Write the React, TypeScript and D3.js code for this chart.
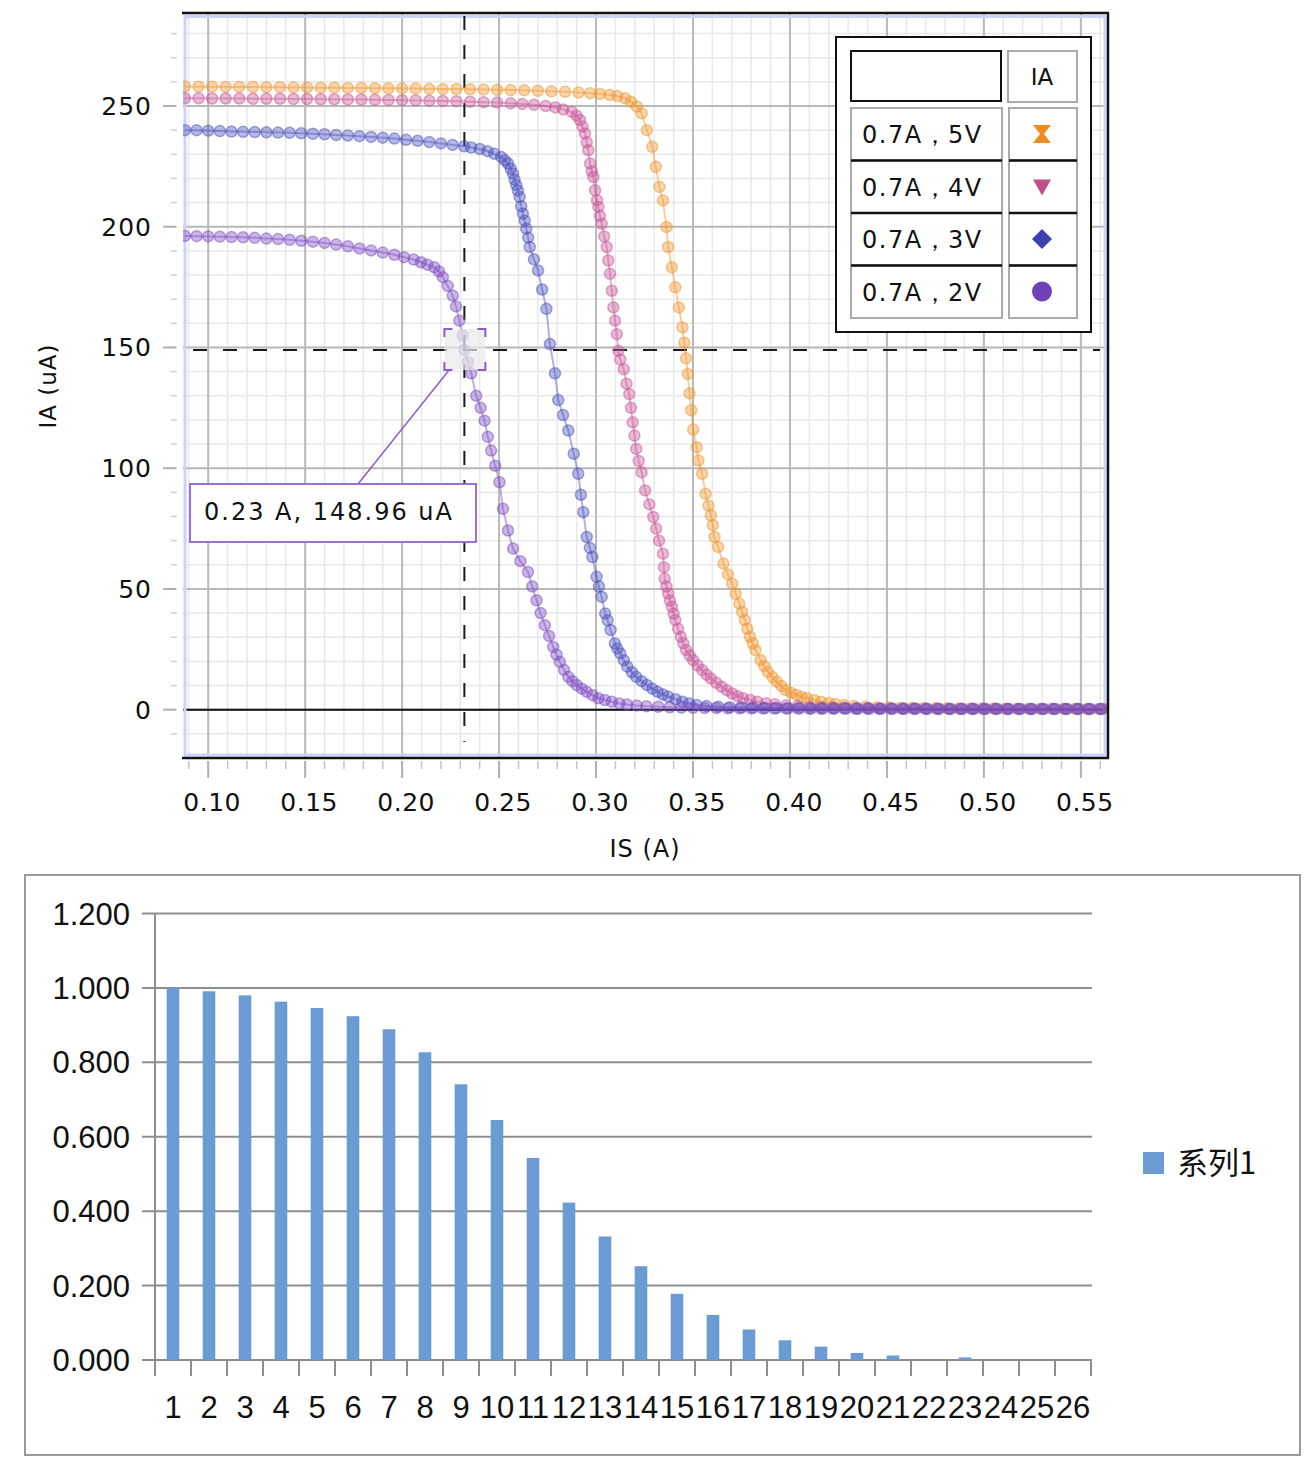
import * as d3 from "d3";

// ---------- top chart: IA (uA) vs IS (A) ----------
const s5V: [number, number][] = [
  [0.088, 258.1], [0.095, 258.0], [0.102, 258.0], [0.109, 257.9], [0.116, 257.9], [0.123, 257.9],
  [0.13, 257.8], [0.137, 257.8], [0.144, 257.7], [0.151, 257.7], [0.158, 257.6], [0.165, 257.6],
  [0.172, 257.5], [0.179, 257.5], [0.186, 257.4], [0.193, 257.3], [0.2, 257.3], [0.207, 257.2],
  [0.214, 257.1], [0.221, 257.0], [0.228, 257.0], [0.235, 256.9], [0.242, 256.8], [0.249, 256.7],
  [0.256, 256.6], [0.263, 256.5], [0.27, 256.3], [0.277, 256.1], [0.284, 255.9], [0.291, 255.6],
  [0.297, 255.3], [0.302, 255.0], [0.307, 254.6], [0.311, 254.1], [0.315, 253.2], [0.318, 251.8],
  [0.321, 249.8], [0.3235, 247.0], [0.3262, 240.0], [0.329, 233.1], [0.3308, 224.8], [0.3327, 216.5],
  [0.3345, 210.9], [0.3363, 199.9], [0.3372, 191.6], [0.3391, 183.2], [0.3409, 174.9], [0.3427, 166.6],
  [0.3446, 158.3], [0.3455, 152.0], [0.3464, 145.5], [0.3473, 139.0], [0.3482, 131.0], [0.3491, 124.0],
  [0.3501, 116.0], [0.3519, 108.7], [0.3528, 103.2], [0.3547, 97.7], [0.3565, 89.4], [0.358, 84.5],
  [0.3592, 80.5], [0.3602, 76.4], [0.3611, 71.5], [0.3629, 67.4], [0.3657, 60.5], [0.368, 56.0],
  [0.3702, 52.2], [0.372, 48.0], [0.3739, 43.9], [0.3753, 40.5], [0.3767, 37.1], [0.378, 33.5],
  [0.3794, 30.2], [0.3808, 27.5], [0.3822, 24.7], [0.3849, 20.5], [0.3868, 18.0], [0.3886, 15.7],
  [0.391, 13.5], [0.3932, 11.6], [0.3955, 9.8], [0.3978, 8.1], [0.4005, 7.0], [0.4033, 6.1],
  [0.406, 5.3], [0.4088, 4.7], [0.4125, 4.0], [0.4161, 3.3], [0.42, 2.8], [0.4235, 2.3],
  [0.428, 1.9], [0.433, 1.5], [0.439, 1.2], [0.445, 1.0], [0.451, 0.9], [0.457, 0.8],
  [0.463, 0.7], [0.469, 0.7], [0.475, 0.6], [0.481, 0.6], [0.487, 0.5], [0.493, 0.5],
  [0.499, 0.5], [0.505, 0.5], [0.511, 0.4], [0.517, 0.4], [0.523, 0.4], [0.529, 0.4],
  [0.535, 0.4], [0.541, 0.4], [0.547, 0.4], [0.553, 0.3], [0.559, 0.3], [0.564, 0.3],
];

const s4V: [number, number][] = [
  [0.088, 253.2], [0.095, 253.2], [0.102, 253.1], [0.109, 253.1], [0.116, 253.1], [0.123, 253.0],
  [0.13, 253.0], [0.137, 253.0], [0.144, 252.9], [0.151, 252.9], [0.158, 252.8], [0.165, 252.8],
  [0.172, 252.7], [0.179, 252.7], [0.186, 252.6], [0.193, 252.5], [0.2, 252.4], [0.207, 252.3],
  [0.214, 252.2], [0.221, 252.1], [0.228, 252.0], [0.235, 251.8], [0.242, 251.6], [0.249, 251.4],
  [0.256, 251.1], [0.262, 250.8], [0.268, 250.5], [0.274, 250.0], [0.279, 249.4], [0.283, 248.6],
  [0.2874, 247.6], [0.29, 246.0], [0.2917, 244.2], [0.293, 241.5], [0.2943, 238.6], [0.2952, 235.0],
  [0.296, 231.7], [0.2969, 226.2], [0.2978, 223.0], [0.2986, 220.6], [0.2995, 215.1], [0.3005, 211.0],
  [0.3012, 208.2], [0.302, 204.5], [0.3029, 201.2], [0.3042, 196.0], [0.3055, 191.6], [0.3063, 186.0],
  [0.3072, 180.5], [0.3081, 173.5], [0.3089, 166.6], [0.3098, 161.1], [0.3107, 155.5], [0.3115, 148.6],
  [0.3125, 145.0], [0.3143, 141.0], [0.3157, 135.0], [0.3171, 130.7], [0.318, 125.0], [0.3189, 119.0],
  [0.3198, 113.5], [0.3207, 108.0], [0.322, 103.0], [0.3235, 98.3], [0.3253, 90.8], [0.3275, 85.0],
  [0.3295, 79.8], [0.331, 75.0], [0.3325, 70.0], [0.3345, 64.6], [0.335, 59.0], [0.3354, 54.3],
  [0.3363, 51.0], [0.3372, 48.1], [0.3381, 45.2], [0.3391, 42.6], [0.34, 39.8], [0.3409, 37.1],
  [0.3423, 33.5], [0.3437, 30.2], [0.345, 27.5], [0.3464, 24.7], [0.3483, 22.5], [0.3501, 20.5],
  [0.3524, 18.3], [0.3547, 16.4], [0.357, 14.5], [0.3592, 12.9], [0.362, 11.1], [0.3647, 9.5],
  [0.3675, 8.0], [0.3702, 6.7], [0.373, 5.6], [0.3758, 4.7], [0.3795, 4.0], [0.3831, 3.3],
  [0.3877, 2.7], [0.3923, 2.2], [0.398, 1.8], [0.404, 1.5], [0.41, 1.2], [0.416, 1.0],
  [0.422, 0.9], [0.428, 0.8], [0.434, 0.7], [0.44, 0.7], [0.446, 0.6], [0.452, 0.6],
  [0.458, 0.5], [0.464, 0.5], [0.47, 0.5], [0.476, 0.5], [0.482, 0.4], [0.488, 0.4],
  [0.494, 0.4], [0.5, 0.4], [0.506, 0.4], [0.512, 0.3], [0.518, 0.3], [0.524, 0.3],
  [0.53, 0.3], [0.536, 0.3], [0.542, 0.3], [0.548, 0.3], [0.554, 0.3], [0.56, 0.3],
];

const s3V: [number, number][] = [
  [0.088, 240.0], [0.094, 240.0], [0.1, 239.8], [0.106, 239.6], [0.112, 239.4], [0.118, 239.3],
  [0.124, 239.2], [0.13, 239.1], [0.136, 239.0], [0.142, 238.9], [0.148, 238.7], [0.154, 238.5],
  [0.16, 238.3], [0.166, 238.0], [0.172, 237.8], [0.178, 237.5], [0.184, 237.2], [0.19, 236.9],
  [0.196, 236.5], [0.202, 236.0], [0.208, 235.6], [0.214, 235.1], [0.22, 234.5], [0.226, 233.9],
  [0.232, 233.3], [0.2356, 232.8], [0.24, 232.2], [0.244, 231.3], [0.2475, 230.2], [0.2511, 228.9],
  [0.253, 227.5], [0.2546, 226.2], [0.256, 224.0], [0.2572, 222.0], [0.258, 219.5], [0.2589, 217.2],
  [0.2597, 215.0], [0.2606, 212.3], [0.2614, 208.5], [0.2623, 205.4], [0.2632, 202.5], [0.264, 199.2],
  [0.265, 195.5], [0.2658, 191.6], [0.268, 186.5], [0.2701, 181.9], [0.2722, 174.0], [0.2744, 166.0],
  [0.2762, 151.4], [0.2788, 139.3], [0.2805, 128.2], [0.283, 122.0], [0.2857, 115.6], [0.2885, 106.0],
  [0.2908, 97.7], [0.2922, 89.0], [0.2934, 81.8], [0.2952, 71.5], [0.2968, 67.0], [0.2981, 63.2],
  [0.3003, 55.0], [0.3015, 51.0], [0.3029, 46.7], [0.3047, 39.8], [0.306, 37.0], [0.3075, 33.0],
  [0.3097, 27.4], [0.311, 25.3], [0.3125, 23.3], [0.3143, 20.5], [0.3161, 17.8], [0.3185, 15.5],
  [0.3207, 13.6], [0.3235, 11.8], [0.3262, 10.2], [0.329, 8.7], [0.3317, 7.4], [0.3345, 6.3],
  [0.3372, 5.4], [0.341, 4.3], [0.3446, 3.3], [0.348, 2.6], [0.3519, 1.9], [0.357, 1.5],
  [0.363, 1.2], [0.369, 1.0], [0.375, 0.9], [0.381, 0.8], [0.387, 0.7], [0.393, 0.7],
  [0.399, 0.6], [0.405, 0.6], [0.411, 0.5], [0.417, 0.5], [0.423, 0.5], [0.429, 0.5],
  [0.435, 0.4], [0.441, 0.4], [0.447, 0.4], [0.453, 0.4], [0.459, 0.4], [0.465, 0.4],
  [0.471, 0.3], [0.477, 0.3], [0.483, 0.3], [0.489, 0.3], [0.495, 0.3], [0.501, 0.3],
  [0.507, 0.3], [0.513, 0.3], [0.519, 0.3], [0.525, 0.3], [0.531, 0.3], [0.537, 0.3],
  [0.543, 0.3], [0.549, 0.3], [0.555, 0.3], [0.561, 0.3],
];

const s2V: [number, number][] = [
  [0.088, 196.2], [0.094, 196.1], [0.1, 196.0], [0.106, 195.9], [0.112, 195.7], [0.118, 195.6],
  [0.124, 195.4], [0.13, 195.1], [0.136, 194.9], [0.142, 194.6], [0.148, 194.2], [0.154, 193.8],
  [0.16, 193.3], [0.166, 192.6], [0.172, 191.9], [0.178, 191.0], [0.184, 190.2], [0.19, 189.3],
  [0.196, 188.4], [0.201, 187.4], [0.206, 186.4], [0.2097, 185.3], [0.213, 184.3], [0.2166, 183.2],
  [0.219, 181.5], [0.221, 179.1], [0.2235, 175.5], [0.2261, 171.5], [0.2278, 167.0], [0.2295, 161.1],
  [0.2312, 155.0], [0.2321, 148.96], [0.234, 144.0], [0.2356, 139.3], [0.2382, 130.0], [0.2405, 125.0],
  [0.2425, 119.7], [0.2442, 113.0], [0.2459, 107.3], [0.248, 101.0], [0.2502, 94.2], [0.252, 83.2],
  [0.2546, 74.2], [0.2572, 66.7], [0.261, 61.5], [0.2649, 57.0], [0.2671, 51.0], [0.2693, 45.3],
  [0.2714, 40.0], [0.2736, 35.0], [0.2758, 30.5], [0.2779, 26.0], [0.2796, 22.8], [0.2813, 19.8],
  [0.2835, 16.5], [0.2857, 13.6], [0.2878, 11.8], [0.29, 10.2], [0.2926, 8.7], [0.2952, 7.4],
  [0.2982, 6.0], [0.3012, 4.7], [0.3045, 4.0], [0.3081, 3.3], [0.312, 2.6], [0.316, 2.1],
  [0.321, 1.7], [0.326, 1.4], [0.332, 1.2], [0.338, 1.0], [0.344, 0.9], [0.35, 0.8],
  [0.356, 0.7], [0.362, 0.7], [0.368, 0.6], [0.374, 0.6], [0.38, 0.6], [0.386, 0.5],
  [0.392, 0.5], [0.398, 0.5], [0.404, 0.5], [0.41, 0.4], [0.416, 0.4], [0.422, 0.4],
  [0.428, 0.4], [0.434, 0.4], [0.44, 0.4], [0.446, 0.3], [0.452, 0.3], [0.458, 0.3],
  [0.464, 0.3], [0.47, 0.3], [0.476, 0.3], [0.482, 0.3], [0.488, 0.3], [0.494, 0.3],
  [0.5, 0.3], [0.506, 0.3], [0.512, 0.3], [0.518, 0.3], [0.524, 0.3], [0.53, 0.3],
  [0.536, 0.3], [0.542, 0.3], [0.548, 0.3], [0.554, 0.3], [0.56, 0.3],
];

const seriesNames = ["0.7A，5V", "0.7A，4V", "0.7A，3V", "0.7A，2V"];
const seriesData = [s5V, s4V, s3V, s2V];
const seriesColors = ["#f0952f", "#c9559a", "#4a50bd", "#7e4cc2"];
const legendColors = ["#f28a22", "#c04f8c", "#3b3fb0", "#7040b5"];

const xTicks = [0.1, 0.15, 0.2, 0.25, 0.3, 0.35, 0.4, 0.45, 0.5, 0.55];
const yTicks = [0, 50, 100, 150, 200, 250];

const focusPoint: [number, number] = [0.2321, 148.96];
const focusLabel = "0.23 A, 148.96 uA";

// ---------- bottom chart ----------
const barCats = ["1", "2", "3", "4", "5", "6", "7", "8", "9", "10", "11", "12", "13",
  "14", "15", "16", "17", "18", "19", "20", "21", "22", "23", "24", "25", "26"];
const barValues = [1.0, 0.991, 0.98, 0.963, 0.946, 0.924, 0.889, 0.827, 0.741, 0.645, 0.543, 0.423, 0.332,
  0.252, 0.178, 0.121, 0.082, 0.053, 0.036, 0.019, 0.012, 0, 0.007, 0, 0, 0];
const barTicks = [0, 0.2, 0.4, 0.6, 0.8, 1.0, 1.2];
const barSeriesName = "系列1";

const TOPFONT = "'DejaVu Sans', Verdana, sans-serif";
const BOTFONT = "'Liberation Sans', Arial, sans-serif";

const P = { x0: 183, x1: 1108, y0: 14, y1: 757 };

function TopChart() {
  const x = d3.scaleLinear().domain([0.087, 0.564]).range([P.x0, P.x1]);
  const y = d3.scaleLinear().domain([-19.6, 288.1]).range([P.y1, P.y0]);
  const line = d3.line<[number, number]>().x((d) => x(d[0])).y((d) => y(d[1]));

  const minorX = d3.range(9, 57).map((i) => i / 100);
  const minorY = d3.range(-10, 290, 10);

  const fx = x(focusPoint[0]);
  const fy = y(focusPoint[1]);

  const rowTop = (i: number) => 108 + i * 52.5;

  return (
    <g>
      <defs>
        <clipPath id="plotClip">
          <rect x={P.x0} y={P.y0} width={P.x1 - P.x0} height={P.y1 - P.y0} />
        </clipPath>
      </defs>
      <rect x={P.x0} y={P.y0} width={P.x1 - P.x0} height={P.y1 - P.y0} fill="#fff" />
      {/* minor grid */}
      {minorX.map((v) => (
        <line key={"mx" + v} x1={x(v)} x2={x(v)} y1={P.y0} y2={P.y1} stroke="#e8e8e8" strokeWidth={1.5} />
      ))}
      {minorY.map((v) => (
        <line key={"my" + v} x1={P.x0} x2={P.x1} y1={y(v)} y2={y(v)} stroke="#e8e8e8" strokeWidth={1.5} />
      ))}
      {/* major grid */}
      {xTicks.map((v) => (
        <line key={"gx" + v} x1={x(v)} x2={x(v)} y1={P.y0} y2={P.y1} stroke="#b9b9b9" strokeWidth={2} />
      ))}
      {yTicks.map((v) => (
        <line key={"gy" + v} x1={P.x0} x2={P.x1} y1={y(v)} y2={y(v)} stroke="#b9b9b9" strokeWidth={2} />
      ))}
      {/* zero line */}
      <line x1={P.x0} x2={P.x1} y1={y(0)} y2={y(0)} stroke="#111" strokeWidth={2} />

      {/* inner light blue frame */}
      <rect x={185} y={16.5} width={1105 - 185} height={755 - 16.5} fill="none" stroke="#cbd3fb" strokeWidth={3} />

      {/* crosshair */}
      <line x1={fx} x2={fx} y1={P.y0 + 2} y2={742} stroke="#1a1a1a" strokeWidth={2} strokeDasharray="14,15" />
      <line x1={193} x2={1100} y1={fy} y2={fy} stroke="#1a1a1a" strokeWidth={2} strokeDasharray="14,16" />

      {/* series */}
      <g clipPath="url(#plotClip)">
        {seriesData.map((s, i) => (
          <g key={seriesNames[i]}>
            <path d={line(s) ?? ""} fill="none" stroke={seriesColors[i]} strokeOpacity={0.45} strokeWidth={2} />
            {s.map((d, j) => (
              <circle key={j} cx={x(d[0])} cy={y(d[1])} r={5.5}
                fill={seriesColors[i]} fillOpacity={0.4}
                stroke={seriesColors[i]} strokeOpacity={0.5} strokeWidth={1.5} />
            ))}
          </g>
        ))}
      </g>

      {/* focus marker */}
      <rect x={fx - 20} y={fy - 21} width={41} height={41} fill="#e9e9e9" fillOpacity={0.7} />
      {[[-1, -1], [1, -1], [-1, 1], [1, 1]].map(([sx, sy], k) => {
        const cx = fx + 0.5 + sx * 20.5;
        const cy = fy - 0.5 + sy * 20.5;
        return (
          <path key={k}
            d={`M${cx - sx * 8},${cy} L${cx},${cy} L${cx},${cy - sy * 8}`}
            fill="none" stroke="#8c5cc9" strokeWidth={2} />
        );
      })}

      {/* callout */}
      <line x1={fx - 16} y1={fy + 21} x2={358} y2={484} stroke="#8c5cc9" strokeWidth={1.5} />
      <rect x={190} y={484} width={286} height={58} fill="#fff" stroke="#9b72d4" strokeWidth={2} />
      <text x={204} y={520} fontFamily={TOPFONT} fontSize={24} letterSpacing={2} fill="#111">{focusLabel}</text>

      {/* outer frame */}
      <line x1={182} x2={1109} y1={13} y2={13} stroke="#111" strokeWidth={2.5} />
      <line x1={1108} x2={1108} y1={13} y2={758} stroke="#111" strokeWidth={2.5} />
      <line x1={182} x2={1109} y1={758} y2={758} stroke="#111" strokeWidth={2.5} />

      {/* x ticks */}
      {minorX.map((v) => (
        <line key={"tx" + v} x1={x(v)} x2={x(v)} y1={761} y2={769} stroke="#c4c4c4" strokeWidth={1.5} />
      ))}
      {xTicks.map((v) => (
        <g key={"lx" + v}>
          <line x1={x(v)} x2={x(v)} y1={761} y2={778} stroke="#b0b0b0" strokeWidth={2} />
          <text x={x(v) + 4} y={811} textAnchor="middle" fontFamily={TOPFONT} fontSize={25}
            letterSpacing={0.5} fill="#111">{d3.format(".2f")(v)}</text>
        </g>
      ))}
      <text x={645} y={857} textAnchor="middle" fontFamily={TOPFONT} fontSize={24} letterSpacing={1} fill="#111">IS (A)</text>

      {/* y ticks */}
      {minorY.map((v) => (
        <line key={"ty" + v} x1={171} x2={177} y1={y(v)} y2={y(v)} stroke="#d0d0d0" strokeWidth={1.5} />
      ))}
      {yTicks.map((v) => (
        <g key={"ly" + v}>
          <line x1={163} x2={176} y1={y(v)} y2={y(v)} stroke="#b0b0b0" strokeWidth={2} />
          <text x={152} y={y(v) + 9} textAnchor="end" fontFamily={TOPFONT} fontSize={25}
            letterSpacing={1} fill="#111">{v}</text>
        </g>
      ))}
      <text transform="translate(56,386) rotate(-90)" textAnchor="middle" fontFamily={TOPFONT}
        fontSize={23} letterSpacing={1} fill="#111">IA (uA)</text>

      {/* legend */}
      <rect x={836} y={37} width={255} height={295} fill="#fff" stroke="#111" strokeWidth={2} />
      <rect x={851} y={51} width={150} height={50} fill="#fff" stroke="#111" strokeWidth={2} />
      <rect x={1008} y={51} width={69} height={51} fill="#fff" stroke="#aaa" strokeWidth={2} />
      <text x={1042} y={85} textAnchor="middle" fontFamily={TOPFONT} fontSize={23} fill="#111">IA</text>
      {seriesNames.map((name, i) => {
        const top = rowTop(i);
        const cy = top + 26;
        const c = legendColors[i];
        let marker;
        if (i === 0) {
          marker = <path d={`M${1033},${cy - 9} H${1051} L${1044},${cy} L${1051},${cy + 9} H${1033} L${1040},${cy} Z`} fill={c} />;
        } else if (i === 1) {
          marker = <path d={`M${1033},${cy - 7} H${1051} L${1042},${cy + 9} Z`} fill={c} />;
        } else if (i === 2) {
          marker = <path d={`M${1042},${cy - 10} L${1052},${cy} L${1042},${cy + 10} L${1032},${cy} Z`} fill={c} />;
        } else {
          marker = <circle cx={1042} cy={cy} r={10} fill={c} />;
        }
        return (
          <g key={"leg" + i}>
            <rect x={851} y={top} width={151} height={52.5} fill="#fff" stroke="#aaa" strokeWidth={2} />
            <rect x={1009} y={top} width={68} height={52.5} fill="#fff" stroke="#aaa" strokeWidth={2} />
            {i > 0 && (
              <>
                <line x1={851} x2={1002} y1={top} y2={top} stroke="#111" strokeWidth={2.5} />
                <line x1={1009} x2={1077} y1={top} y2={top} stroke="#111" strokeWidth={2.5} />
              </>
            )}
            <text x={862} y={cy + 9} fontFamily={TOPFONT} fontSize={24} letterSpacing={1.5} fill="#111">{name}</text>
            {marker}
          </g>
        );
      })}
    </g>
  );
}

function BottomChart() {
  const B = { x0: 155, x1: 1091, y0: 913.5, y1: 1360 };
  const xb = d3.scaleBand<string>().domain(barCats).range([B.x0, B.x1]).paddingInner(0.65).paddingOuter(0.325);
  const yb = d3.scaleLinear().domain([0, 1.2]).range([B.y1, B.y0]);
  const step = xb.step();

  return (
    <g>
      <rect x={25} y={875} width={1275} height={580} fill="#fff" stroke="#9a9a9a" strokeWidth={2} />
      {barTicks.map((v) => (
        <g key={"bg" + v}>
          <line x1={142} x2={B.x1 + 1} y1={yb(v)} y2={yb(v)} stroke="#8e8e8e" strokeWidth={2} />
          <text x={130} y={yb(v) + 11} textAnchor="end" fontFamily={BOTFONT} fontSize={31} fill="#111">
            {d3.format(".3f")(v)}
          </text>
        </g>
      ))}
      <line x1={B.x0} x2={B.x0} y1={B.y0} y2={B.y1} stroke="#8e8e8e" strokeWidth={2} />
      {barCats.map((c, i) => (
        <rect key={"bar" + c} x={xb(c)} y={yb(barValues[i])} width={xb.bandwidth()}
          height={B.y1 - yb(barValues[i])} fill="#6a9bd2" />
      ))}
      {d3.range(barCats.length + 1).map((i) => (
        <line key={"bt" + i} x1={B.x0 + i * step} x2={B.x0 + i * step} y1={B.y1} y2={1376}
          stroke="#8e8e8e" strokeWidth={2} />
      ))}
      {barCats.map((c) => (
        <text key={"bl" + c} x={(xb(c) ?? 0) + xb.bandwidth() / 2} y={1418} textAnchor="middle"
          fontFamily={BOTFONT} fontSize={31} fill="#111">{c}</text>
      ))}
      <rect x={1143} y={1152} width={21} height={22} fill="#6a9bd2" />
      <text x={1177} y={1174} fontFamily="'Noto Sans CJK SC', sans-serif" fontSize={31} fill="#111">
        {barSeriesName}
      </text>
    </g>
  );
}

export default function App() {
  return (
    <svg width={1310} height={1462} style={{ position: "absolute", left: 0, top: 0, background: "#fff" }}>
      <rect width={1310} height={1462} fill="#fff" />
      <TopChart />
      <BottomChart />
    </svg>
  );
}
